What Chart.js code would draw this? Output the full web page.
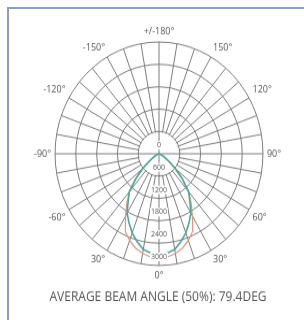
<!DOCTYPE html>
<html><head><meta charset="utf-8">
<script src="https://cdn.jsdelivr.net/npm/chart.js@4/dist/chart.umd.min.js"></script>
<style>
html,body{margin:0;padding:0;background:#fff;width:304px;height:320px;overflow:hidden;}
#frame{position:absolute;left:7px;top:7px;width:297px;height:313px;border-left:2px solid #8e9cc9;border-top:2px solid #8e9cc9;box-sizing:border-box;}
#wrap{position:absolute;left:0;top:0;width:304px;height:298px;transform:scaleY(1.075);transform-origin:0 0;}
</style></head><body>
<div id="frame"></div>
<div id="wrap"><canvas id="c"></canvas></div>
<script>
// Angles of the measured intensity values (0 = straight down), degrees
const angles = [-90,-85,-80,-75,-70,-65,-60,-55,-50,-45,-40,-35,-30,-25,-20,-15,-10,-5,0,5,10,15,20,25,30,35,40,45,50,55,60,65,70,75,80,85,90];
// Luminous intensity, cd (teal curve)
const planeA = [0,5,10,20,40,85,170,330,600,950,1330,1550,1840,2050,2260,2440,2610,2680,2700,2680,2610,2440,2260,2050,1840,1550,1330,950,600,330,170,85,40,20,10,5,0];
// Luminous intensity, cd (red curve)
const planeB = [0,5,10,20,40,85,170,330,600,950,1330,1620,1930,2300,2480,2620,2720,2780,2800,2780,2720,2620,2480,2300,1930,1620,1330,950,600,330,170,85,40,20,10,5,0];
// Angle tick labels (clockwise from top)
const angleTickValues = [180,150,120,90,60,30,0,-30,-60,-90,-120,-150];
const angleTickLabels = ['+/-180°','150°','120°','90°','60°','30°','0°','30°','-60°','-90°','-120°','-150°'];
// Intensity rings
const radialTicks = [0,600,1200,1800,2400,3000];
const titleText = 'AVERAGE BEAM ANGLE (50%): 79.4DEG';

const GRID = '#7c7c7c';
// directions every 5 degrees, clockwise from the top (180)
const dirs = [];
for (let i = 0; i < 72; i++) { dirs.push(180 - 5 * i); }
const labels = dirs.map(a => { const k = angleTickValues.indexOf(a); return k >= 0 ? angleTickLabels[k] : ''; });
const toSeries = vals => dirs.map(a => { const k = angles.indexOf(a); return k >= 0 ? vals[k] : null; });

const holePlugin = {
  id: 'hole',
  beforeDatasetsDraw(chart) {
    const s = chart.scales.r, ctx = chart.ctx;
    const r = s.getDistanceFromCenterForValue(radialTicks[1]);
    ctx.save();
    ctx.beginPath(); ctx.arc(s.xCenter, s.yCenter, r - 0.8, 0, Math.PI * 2);
    ctx.fillStyle = '#fff'; ctx.fill();
    ctx.strokeStyle = GRID; ctx.lineWidth = 1;
    ctx.beginPath();
    ctx.moveTo(s.xCenter - r, s.yCenter); ctx.lineTo(s.xCenter + r, s.yCenter);
    ctx.moveTo(s.xCenter, s.yCenter - r); ctx.lineTo(s.xCenter, s.yCenter + r);
    ctx.stroke();
    ctx.restore();
  }
};
const tickLabelPlugin = {
  id: 'tickLabels',
  afterDatasetsDraw(chart) {
    const s = chart.scales.r, ctx = chart.ctx;
    ctx.save();
    ctx.font = '7px "Open Sans"';
    ctx.textAlign = 'center'; ctx.textBaseline = 'middle';
    radialTicks.forEach(v => {
      const r = s.getDistanceFromCenterForValue(v);
      const y = s.yCenter + r - 8;
      const t = String(v);
      const w = ctx.measureText(t).width;
      ctx.fillStyle = '#fff';
      ctx.fillRect(s.xCenter - w / 2 - 1, y - 4, w + 2, 8);
      ctx.fillStyle = '#555';
      ctx.fillText(t, s.xCenter, y);
    });
    ctx.restore();
  }
};

new Chart(document.getElementById('c'), {
  type: 'radar',
  data: {
    labels: labels,
    datasets: [
      { label: 'Curve A', data: toSeries(planeA), borderColor: '#4fa5a1', borderWidth: 1.6, pointRadius: 0, fill: false, spanGaps: false, tension: 0 },
      { label: 'Curve B', data: toSeries(planeB), borderColor: '#e6947f', borderWidth: 1.2, pointRadius: 0, fill: false, spanGaps: false, tension: 0 }
    ]
  },
  options: {
    responsive: true, maintainAspectRatio: false, animation: false,
    layout: { padding: { left: 33, right: 21, top: 22, bottom: 10 } },
    plugins: {
      legend: { display: false }, tooltip: { enabled: false },
      title: { display: true, position: 'bottom', text: titleText, color: '#555', font: { family: 'Open Sans', size: 12, weight: 'normal' }, padding: { top: 4, bottom: 4 } }
    },
    scales: {
      r: {
        min: 0, max: 3000,
        ticks: { stepSize: 600, display: false },
        grid: { circular: true, color: GRID, lineWidth: 1 },
        angleLines: { color: GRID, lineWidth: c => (c.index % 2 === 0 ? 1 : 0) },
        pointLabels: { display: true, font: { family: 'Open Sans', size: 9 }, color: '#555', padding: 4 }
      }
    }
  },
  plugins: [holePlugin, tickLabelPlugin]
});
</script>
</body></html>
